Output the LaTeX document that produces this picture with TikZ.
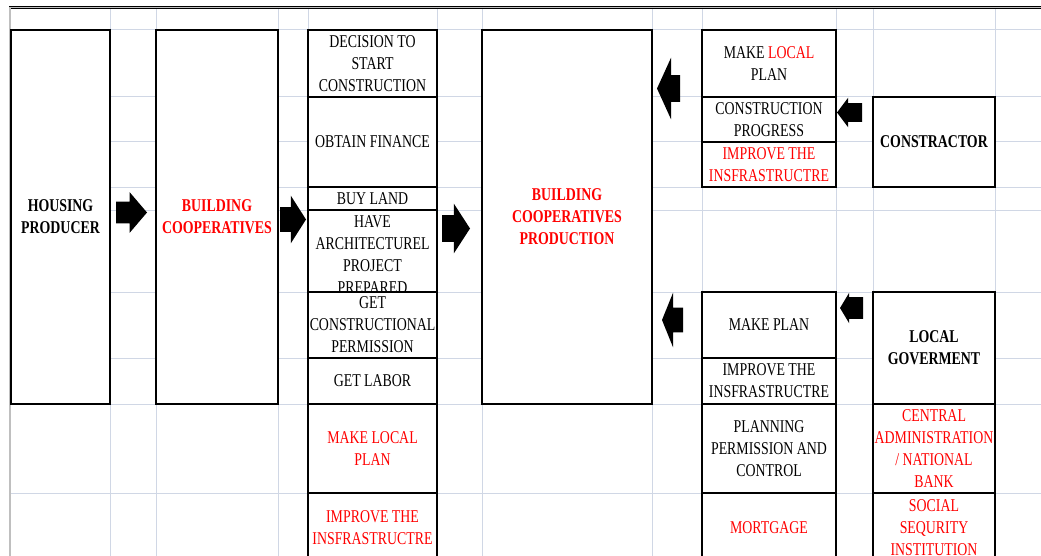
\documentclass[tikz,border=0pt]{standalone}
\usepackage{fontspec}
\setmainfont[FakeStretch=0.77]{Liberation Serif}
\usetikzlibrary{positioning,shapes.arrows}
\definecolor{gridline}{RGB}{208,215,229}
\tikzset{
	cell/.style={
		rectangle,
		draw=black, line width=1.9pt,
		fill=white,
		inner sep=0pt, outer sep=0pt,
		align=center,
		font=\fontsize{13.5pt}{16.5pt}\selectfont,
	},
	bigcell/.style={cell, font=\fontsize{13.5pt}{16.5pt}\selectfont\bfseries},
	stepcell/.style={cell, minimum width=96.75pt},
	sidecell/.style={cell, minimum width=100.5pt},
	partycell/.style={cell, minimum width=91.5pt},
	fatarrow/.style={
		single arrow,
		fill=black,
		inner xsep=0pt, outer sep=0pt,
		minimum width=0pt,
		anchor=tip,
	},
}

\begin{document}
\begin{tikzpicture}[x=0.75pt, y=-0.75pt, node distance=0pt]
\useasboundingbox (0,0) rectangle (1041,556);
\clip (0,0) rectangle (1041,556);
\fill[white] (0,0) rectangle (1041,556);

% sheet grid
\foreach \gx in {110,156,278,308,437,482,652,702,836,873,995}
	\draw[gridline, line width=0.75pt] (\gx,8) -- (\gx,556);
\foreach \gy in {30,97,142,187,210,292,358,404,493}
	\draw[gridline, line width=0.75pt] (10,\gy) -- (1041,\gy);
\draw[line width=0.6pt, double=gray!50, double distance=0.9pt] (10,560) -- (10,7.5) -- (1045,7.5);

\node	(producer)	[bigcell, minimum width=74.25pt, minimum height=280.5pt]	at (60.5,217)	{HOUSING\\PRODUCER};
\node	(coop)	[bigcell, text=red, minimum width=91.5pt, minimum height=280.5pt]	at (217,217)	{BUILDING\\COOPERATIVES};
\node	(production)	[bigcell, text=red, minimum width=127.5pt, minimum height=280.5pt]	at (567,217)	{BUILDING\\COOPERATIVES\\PRODUCTION};

% steps of the cooperative
\node	(decision)	[stepcell, minimum height=50.25pt]	at (372.5,63.5)	{DECISION TO\\START\\CONSTRUCTION};
\node	(finance)	[stepcell, minimum height=67.5pt]	[below=of decision]	{OBTAIN FINANCE};
\node	(land)	[stepcell, minimum height=17.25pt]	[below=of finance]	{BUY LAND};
\node	(project)	[stepcell, minimum height=61.5pt]	[below=of land]	{};
\node	(projecttext)	[cell, draw=none, fill=none]	at ([yshift=-3pt]project.center)	{HAVE\\ARCHITECTUREL\\PROJECT\\PREPARED};
\node	(permission)	[stepcell, minimum height=49.5pt]	[below=of project]	{GET\\CONSTRUCTIONAL\\PERMISSION};
\node	(labor)	[stepcell, minimum height=34.5pt]	[below=of permission]	{GET LABOR};
\node	(localplan)	[stepcell, text=red, minimum height=66.75pt]	[below=of labor]	{MAKE LOCAL\\PLAN};
\node	(infra)	[stepcell, text=red, minimum height=51.75pt]	[below=of localplan]	{IMPROVE THE\\INSFRASTRUCTRE};

% contractor side
\node	(cplan)	[sidecell, minimum height=50.25pt]	at (769,63.5)	{MAKE \textcolor{red}{LOCAL}\\PLAN};
\node	(progress)	[sidecell, minimum height=33.75pt]	[below=of cplan]	{CONSTRUCTION\\PROGRESS};
\node	(cinfra)	[sidecell, text=red, minimum height=33.75pt]	[below=of progress]	{IMPROVE THE\\INSFRASTRUCTRE};
\node	(contractor)	[partycell, font=\fontsize{13.5pt}{16.5pt}\selectfont\bfseries, minimum height=67.5pt]	at (934,142)	{CONSTRACTOR};

% government side
\node	(gplan)	[sidecell, minimum height=49.5pt]	at (769,325)	{MAKE PLAN};
\node	(ginfra)	[sidecell, minimum height=34.5pt]	[below=of gplan]	{IMPROVE THE\\INSFRASTRUCTRE};
\node	(control)	[sidecell, minimum height=66.75pt]	[below=of ginfra]	{PLANNING\\PERMISSION AND\\CONTROL};
\node	(mortgage)	[sidecell, text=red, minimum height=51.75pt]	[below=of control]	{MORTGAGE};
\node	(government)	[partycell, font=\fontsize{13.5pt}{16.5pt}\selectfont\bfseries, minimum height=84pt]	at (934,348)	{LOCAL\\GOVERMENT};
\node	(bank)	[partycell, text=red, minimum height=66.75pt]	[below=of government]	{CENTRAL\\ADMINISTRATION\\/ NATIONAL\\BANK};
\node	(security)	[partycell, text=red, minimum height=51.75pt]	[below=of bank]	{SOCIAL\\SEQURITY\\INSTITUTION};

% block arrows
\node	(a1)	[fatarrow, inner ysep=7.875pt, single arrow head extend=7.125pt, single arrow tip angle=99, minimum height=23.25pt]	at (147,212.5)	{};
\node	(a2)	[fatarrow, inner ysep=9pt, single arrow head extend=8.625pt, single arrow tip angle=115, minimum height=19.5pt]	at (306,219.5)	{};
\node	(a3)	[fatarrow, inner ysep=9.75pt, single arrow head extend=8.625pt, single arrow tip angle=114, minimum height=21pt]	at (470,228.5)	{};
\node	(a4)	[fatarrow, shape border rotate=180, inner ysep=9.75pt, single arrow head extend=13.125pt, single arrow tip angle=131, minimum height=17.25pt]	at (657,88.5)	{};
\node	(a5)	[fatarrow, shape border rotate=180, inner ysep=6.75pt, single arrow head extend=4.125pt, single arrow tip angle=106, minimum height=18.75pt]	at (837,112.5)	{};
\node	(a6)	[fatarrow, shape border rotate=180, inner ysep=7.875pt, single arrow head extend=3.375pt, single arrow tip angle=118, minimum height=17.25pt]	at (840,308)	{};
\node	(a7)	[fatarrow, shape border rotate=180, inner ysep=9pt, single arrow head extend=11.25pt, single arrow tip angle=136, minimum height=15.75pt]	at (662,320)	{};

\end{tikzpicture}
\end{document}
